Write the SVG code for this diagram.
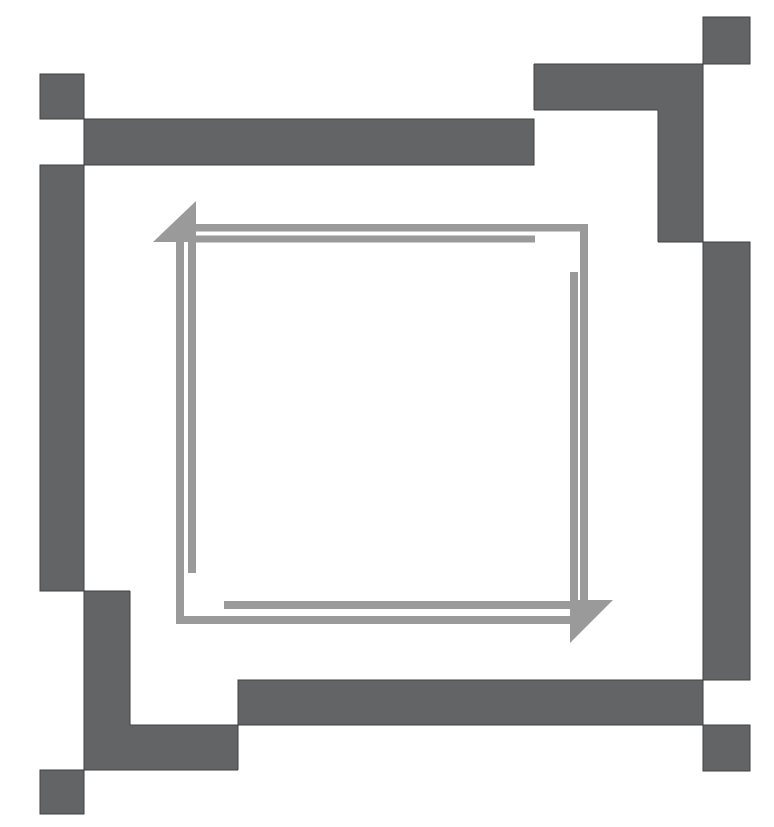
<svg xmlns="http://www.w3.org/2000/svg" width="774" height="827" viewBox="0 0 774 827">
<style>
.d{fill:#636466;stroke:#3f4042;stroke-width:1}
.g{fill:#9a9a9a}
</style>
<rect width="774" height="827" fill="#ffffff"/>
<g id="frame">
<rect class="d" x="40" y="74" width="44" height="45"/>
<rect class="d" x="84" y="119" width="450" height="46"/>
<rect class="d" x="40" y="165" width="44" height="426"/>
<polygon class="d" points="84,591 130,591 130,725 238,725 238,770 84,770"/>
<rect class="d" x="40" y="770" width="44" height="44"/>
<rect class="d" x="238" y="680" width="465" height="45"/>
<rect class="d" x="703" y="725" width="47" height="46"/>
<rect class="d" x="703" y="242" width="47" height="438"/>
<polygon class="d" points="534,64 703,64 703,242 658,242 658,110 534,110"/>
<rect class="d" x="703" y="17" width="47" height="47"/>
</g>
<g id="connectors">
<polygon class="g" points="196,201 196,242 153,242"/>
<rect class="g" x="196" y="224" width="392" height="7.5"/>
<rect class="g" x="580" y="224" width="8" height="400"/>
<rect class="g" x="176" y="616" width="394" height="8"/>
<rect class="g" x="176" y="242" width="8" height="382"/>
<rect class="g" x="196" y="235.5" width="339" height="7"/>
<rect class="g" x="188" y="242" width="8" height="331"/>
<rect class="g" x="570" y="272" width="8" height="329"/>
<rect class="g" x="224" y="601" width="346" height="8"/>
<polygon class="g" points="570,600 613,600 570,643"/>
</g>
</svg>
